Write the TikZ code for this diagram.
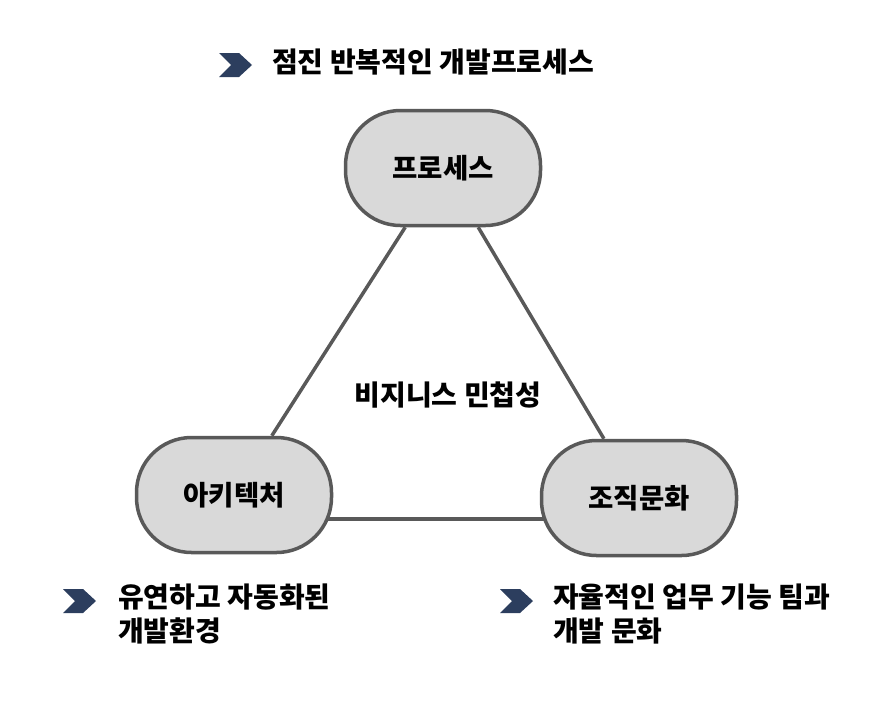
\documentclass[tikz,border=0pt]{standalone}
\usepackage{fontspec}
\setmainfont{Noto Sans CJK KR}
\usetikzlibrary{backgrounds}
\definecolor{boxfill}{HTML}{D9D9D9}
\definecolor{boxline}{HTML}{595959}
\definecolor{chevnavy}{HTML}{2C3E5E}
\tikzset{
  pillbox/.style={draw=boxline, fill=boxfill, line width=3.5pt, rounded corners=55pt,
    minimum width=195pt, minimum height=115pt, font=\fontsize{27.5}{30}\selectfont\bfseries},
  notetext/.style={inner sep=0pt, align=left, font=\fontsize{28}{34}\selectfont\bfseries},
  link/.style={draw=boxline, line width=3.5pt}
}
\newcommand{\chevmark}[2]{\fill[chevnavy] (#1,#2) -- ++(20,0) -- ++(13,12) -- ++(-13,12) -- ++(-20,0) -- ++(12,-12) -- cycle;}

\begin{document}
\begin{tikzpicture}[x=1pt, y=-1pt]
\useasboundingbox (0,0) rectangle (874,726);
% three boxes
\node[pillbox] (proc) at (443,168) {프로세스};
\node[pillbox] (arch) at (234,495) {아키텍처};
\node[pillbox] (cult) at (639,498) {조직문화};
\begin{scope}[on background layer]
  \draw[link] (proc) -- (arch);
  \draw[link] (proc) -- (cult);
  \draw[link] ([yshift=-24pt]arch.center) -- ([yshift=-24pt]arch.center -| cult.center);
\end{scope}
\node[notetext] (agile) at (448,395) {비지니스 민첩성};
% notes
\chevmark{219}{53}
\node[notetext, anchor=west] (note1) at (272,62) {점진 반복적인 개발프로세스};
\chevmark{63}{589}
\node[notetext, anchor=north west] (note2) at (118,584) {유연하고 자동화된\\개발환경};
\chevmark{500}{589}
\node[notetext, anchor=north west] (note3) at (553,584) {자율적인 업무 기능 팀과\\개발 문화};
\end{tikzpicture}
\end{document}
